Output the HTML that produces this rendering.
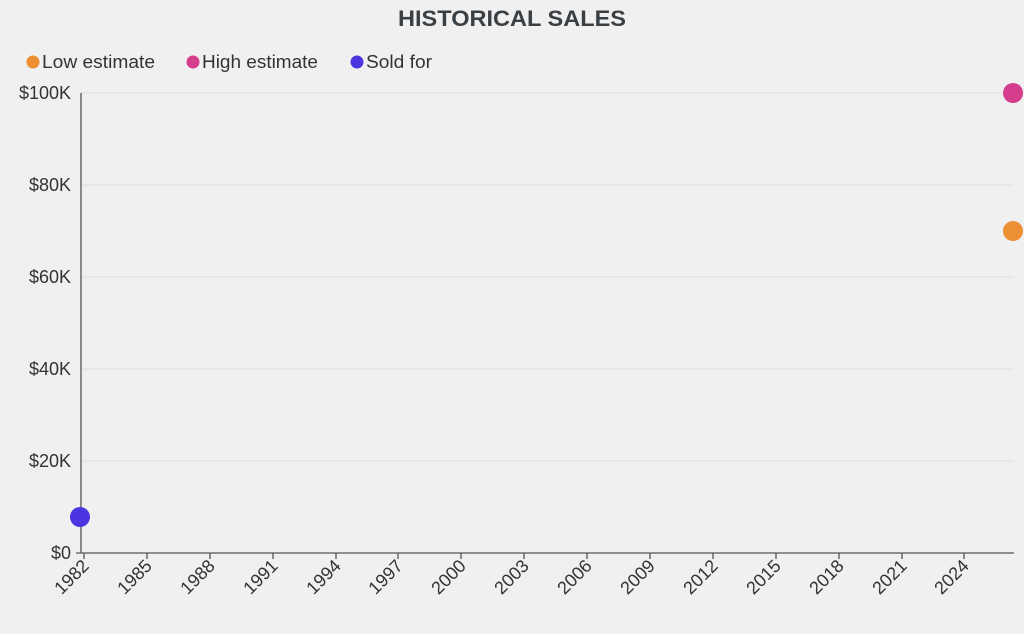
<!DOCTYPE html>
<html><head><style>
body{margin:0;background:#f0f0f0;}
svg{display:block;font-family:"Liberation Sans",sans-serif;}
</style></head><body>
<svg width="1024" height="634" viewBox="0 0 1024 634">
<rect width="1024" height="634" fill="#f0f0f0"/>
<text x="398" y="26" font-size="22" font-weight="bold" fill="#3a3f44" textLength="228" lengthAdjust="spacingAndGlyphs">HISTORICAL SALES</text>
<circle cx="33" cy="62" r="6.5" fill="#ec8f35"/><text x="42" y="68" font-size="18" fill="#333" textLength="113" lengthAdjust="spacingAndGlyphs">Low estimate</text>
<circle cx="193" cy="62" r="6.5" fill="#d63d8c"/><text x="202" y="68" font-size="18" fill="#333" textLength="116" lengthAdjust="spacingAndGlyphs">High estimate</text>
<circle cx="357" cy="62" r="6.5" fill="#4a35e0"/><text x="366" y="68" font-size="18" fill="#333" textLength="66" lengthAdjust="spacingAndGlyphs">Sold for</text>
<g stroke="#dedede" stroke-width="1">
<line x1="81" x2="1014" y1="93" y2="93"/><line x1="81" x2="1014" y1="185" y2="185"/>
<line x1="81" x2="1014" y1="277" y2="277"/><line x1="81" x2="1014" y1="369" y2="369"/>
<line x1="81" x2="1014" y1="461" y2="461"/>
</g>
<g font-size="18" fill="#333" text-anchor="end">
<text x="71" y="99">$100K</text><text x="71" y="191">$80K</text><text x="71" y="283">$60K</text>
<text x="71" y="375">$40K</text><text x="71" y="467">$20K</text><text x="71" y="559">$0</text>
</g>
<g stroke="#555" stroke-width="1.3">
<line x1="81" y1="93" x2="81" y2="553"/><line x1="76" y1="553" x2="1014" y2="553"/>
<line x1="84" y1="553" x2="84" y2="559"/><line x1="147" y1="553" x2="147" y2="559"/><line x1="210" y1="553" x2="210" y2="559"/><line x1="273" y1="553" x2="273" y2="559"/><line x1="336" y1="553" x2="336" y2="559"/><line x1="398" y1="553" x2="398" y2="559"/><line x1="461" y1="553" x2="461" y2="559"/><line x1="524" y1="553" x2="524" y2="559"/><line x1="587" y1="553" x2="587" y2="559"/><line x1="650" y1="553" x2="650" y2="559"/><line x1="713" y1="553" x2="713" y2="559"/><line x1="776" y1="553" x2="776" y2="559"/><line x1="839" y1="553" x2="839" y2="559"/><line x1="902" y1="553" x2="902" y2="559"/><line x1="964" y1="553" x2="964" y2="559"/>
</g>
<g font-size="18" fill="#333" text-anchor="end">
<text transform="translate(90,567) rotate(-45)">1982</text><text transform="translate(153,567) rotate(-45)">1985</text><text transform="translate(216,567) rotate(-45)">1988</text><text transform="translate(279,567) rotate(-45)">1991</text><text transform="translate(342,567) rotate(-45)">1994</text><text transform="translate(404,567) rotate(-45)">1997</text><text transform="translate(467,567) rotate(-45)">2000</text><text transform="translate(530,567) rotate(-45)">2003</text><text transform="translate(593,567) rotate(-45)">2006</text><text transform="translate(656,567) rotate(-45)">2009</text><text transform="translate(719,567) rotate(-45)">2012</text><text transform="translate(782,567) rotate(-45)">2015</text><text transform="translate(845,567) rotate(-45)">2018</text><text transform="translate(908,567) rotate(-45)">2021</text><text transform="translate(970,567) rotate(-45)">2024</text>
</g>
<circle cx="80" cy="517" r="10" fill="#4a35e0"/>
<circle cx="1013" cy="93" r="10" fill="#d63d8c"/>
<circle cx="1013" cy="231" r="10" fill="#ec8f35"/>
</svg>
</body></html>
